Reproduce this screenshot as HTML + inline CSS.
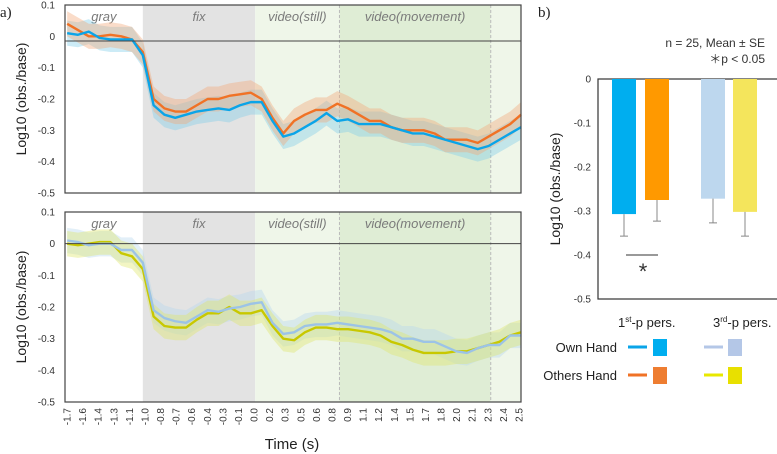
<!DOCTYPE html>
<html><head><meta charset="utf-8">
<style>
html,body{margin:0;padding:0;background:#fff;}
svg{display:block;font-family:"Liberation Sans",sans-serif;}
</style></head>
<body>
<svg id="c" width="777" height="454" viewBox="0 0 777 454" xmlns="http://www.w3.org/2000/svg"></svg>
<script>
// ---- data ----
const times = [-1.7,-1.6,-1.5,-1.4,-1.3,-1.2,-1.1,-1.0,-0.9,-0.8,-0.7,-0.6,-0.5,-0.4,-0.3,-0.2,-0.1,0.0,0.1,0.2,0.3,0.4,0.5,0.6,0.7,0.8,0.9,1.0,1.1,1.2,1.3,1.4,1.5,1.6,1.7,1.8,1.9,2.0,2.1,2.2,2.3,2.4,2.5];
const ownFirst = [0.01,0.005,0.015,-0.005,-0.01,-0.01,-0.01,-0.06,-0.22,-0.25,-0.26,-0.25,-0.24,-0.235,-0.23,-0.235,-0.22,-0.21,-0.21,-0.27,-0.32,-0.31,-0.29,-0.27,-0.245,-0.27,-0.265,-0.28,-0.28,-0.28,-0.29,-0.3,-0.31,-0.31,-0.32,-0.33,-0.34,-0.35,-0.36,-0.35,-0.33,-0.31,-0.29];
const othersFirst = [0.04,0.02,0,0,0.005,0.0,-0.01,-0.05,-0.2,-0.23,-0.24,-0.24,-0.22,-0.2,-0.2,-0.19,-0.185,-0.18,-0.2,-0.26,-0.31,-0.27,-0.25,-0.235,-0.235,-0.215,-0.23,-0.25,-0.27,-0.27,-0.29,-0.3,-0.3,-0.3,-0.31,-0.33,-0.33,-0.33,-0.34,-0.32,-0.3,-0.28,-0.25];
const ownThird = [0.01,0.005,-0.005,0,0.0,-0.02,-0.02,-0.06,-0.21,-0.235,-0.245,-0.25,-0.23,-0.21,-0.215,-0.205,-0.2,-0.19,-0.185,-0.25,-0.285,-0.28,-0.26,-0.255,-0.255,-0.25,-0.255,-0.26,-0.265,-0.27,-0.28,-0.3,-0.3,-0.31,-0.31,-0.325,-0.34,-0.345,-0.33,-0.32,-0.32,-0.29,-0.29];
const othersThird = [0,-0.005,0,0.005,0.005,-0.03,-0.04,-0.08,-0.23,-0.26,-0.265,-0.265,-0.24,-0.22,-0.22,-0.2,-0.22,-0.22,-0.21,-0.26,-0.3,-0.305,-0.28,-0.265,-0.265,-0.27,-0.27,-0.275,-0.28,-0.29,-0.31,-0.32,-0.335,-0.345,-0.345,-0.345,-0.34,-0.34,-0.33,-0.32,-0.31,-0.29,-0.28];
const seBand = 0.04;
const xTickLabels = ["-1.7","-1.6","-1.4","-1.3","-1.1","-1.0","-0.8","-0.7","-0.6","-0.4","-0.3","-0.1","0.0","0.2","0.3","0.5","0.6","0.8","0.9","1.1","1.2","1.4","1.5","1.7","1.8","2.0","2.1","2.3","2.4","2.5"];
const yTicks = [0.1,0,-0.1,-0.2,-0.3,-0.4,-0.5];
const phaseNames = ["gray","fix","video(still)","video(movement)"];
const phaseStarts = [-1.72,-1.0,0.04,0.82,2.22];
const barCategories = ["1st own","1st others","3rd own","3rd others"];
const barValues = [-0.307,-0.275,-0.272,-0.302];
const barErrors = [0.05,0.048,0.055,0.055];
const barTicks = [0,-0.1,-0.2,-0.3,-0.4,-0.5];

const NS="http://www.w3.org/2000/svg";
const svg=document.getElementById('c');
function mk(tag,attrs,parent,text){const e=document.createElementNS(NS,tag);for(const k in attrs)e.setAttribute(k,attrs[k]);if(text!==undefined)e.textContent=text;(parent||svg).appendChild(e);return e;}

const X0=65,X1=521,T0=-1.72,T1=2.5;
const xs=t=>X0+(t-T0)/(T1-T0)*(X1-X0);

function panel(top,bottom,zeroVal,s1,s2,c1,c2,b1,b2,name,showX){
  const g=mk('g',{});
  
  
  const ys=v=>top+(0.1-v)/0.6*(bottom-top);
  const fills=['#ffffff','#e3e3e3','#eff6e9','#dfedd5','#eff6e9'];
  for(let i=0;i<4;i++){
    const r=mk('rect',{x:xs(phaseStarts[i]),y:top,width:xs(phaseStarts[i+1])-xs(phaseStarts[i]),height:bottom-top,fill:fills[i]},g);
    
    
    const tx=mk('text',{x:(xs(phaseStarts[i])+xs(phaseStarts[i+1]))/2,y:top+16,'font-size':13,'font-style':'italic',fill:'#7a7a7a','text-anchor':'middle'},g,phaseNames[i]);
    
    
  }
  mk('rect',{x:xs(phaseStarts[4]),y:top,width:X1-xs(phaseStarts[4]),height:bottom-top,fill:fills[4]},g);
  [phaseStarts[3],phaseStarts[4]].forEach(t=>mk('line',{x1:xs(t),x2:xs(t),y1:top,y2:bottom,stroke:'#bbb','stroke-dasharray':'3,2','stroke-width':1},g));
  function band(s,col){
    let d='M'+times.map((t,i)=>xs(t)+','+ys(s[i]+seBand)).join('L');
    d+='L'+times.slice().reverse().map((t,j)=>{const i=times.length-1-j;return xs(t)+','+ys(s[i]-seBand);}).join('L')+'Z';
    const p=mk('path',{d:d,fill:col,opacity:0.4},g);
    
    
  }
  function line(s,col,n){
    const p=mk('path',{d:'M'+times.map((t,i)=>xs(t)+','+ys(s[i])).join('L'),fill:'none',stroke:col,'stroke-width':2.4,'stroke-linejoin':'round'},g);
    
    
  }
  band(s1,b1);band(s2,b2);
  line(s2,c2,name+'-others-line');line(s1,c1,name+'-own-line');
  mk('line',{x1:X0,x2:X1,y1:ys(zeroVal),y2:ys(zeroVal),stroke:'#444','stroke-width':1},g);
  mk('rect',{x:X0,y:top,width:X1-X0,height:bottom-top,fill:'none',stroke:'#444','stroke-width':1.2},g);
  yTicks.forEach(v=>{const t=mk('text',{x:55,y:ys(v)+3.5,'font-size':10,fill:'#333','text-anchor':'end'},g,v===0?'0':String(v));
    });
  const yt=mk('text',{x:0,y:0,transform:`translate(26,${(top+bottom)/2}) rotate(-90)`,'font-size':14,fill:'#222','text-anchor':'middle'},g,'Log10 (obs./base)');
  
  if(showX){
    const n=xTickLabels.length;
    xTickLabels.forEach((l,i)=>{const x=67+i*(519-67)/(n-1);
      const t=mk('text',{x:0,y:0,transform:`translate(${x+3.5},${bottom+6}) rotate(-90)`,'font-size':10,fill:'#333','text-anchor':'end'},g,l);
      });
  }
}
panel(5,193,-0.015,ownFirst,othersFirst,'#0aa4e8','#f07226','#7fcde8','#f2a878','top-panel-first-person',false);
panel(212,402,0,ownThird,othersThird,'#9cc3e6','#c8c800','#b7d6ee','#dfe56a','bottom-panel-third-person',true);
const xt=mk('text',{x:292,y:449,'font-size':15,fill:'#222','text-anchor':'middle'},svg,'Time (s)');

const la=mk('text',{x:0,y:17,'font-size':15,'font-family':'Liberation Serif',fill:'#222'},svg,'a)');

const lb=mk('text',{x:538,y:17,'font-size':15,'font-family':'Liberation Serif',fill:'#222'},svg,'b)');


// ---- bar chart ----
const BY0=79,BY1=299,BX0=598,BX1=777;
const by=v=>BY0+(0-v)/0.5*(BY1-BY0);
const barX=[612,645,701,733],barW=24;
const barCols=['#00aeef','#ff9900','#bdd7ee','#f4e55c'];
mk('rect',{x:BX0,y:BY0,width:BX1-BX0+2,height:BY1-BY0,fill:'none',stroke:'#333','stroke-width':1.2});
barValues.forEach((v,i)=>{
  const r=mk('rect',{x:barX[i],y:by(0),width:barW,height:by(v)-by(0),fill:barCols[i]});
  
  
  const cx=barX[i]+barW/2;
  const e=mk('path',{d:`M${cx},${by(v)}V${by(v-barErrors[i])}M${cx-4},${by(v-barErrors[i])}H${cx+4}`,stroke:'#888','stroke-width':1,fill:'none'});
  
});
barTicks.forEach(v=>{const t=mk('text',{x:591,y:by(v)+3.5,'font-size':10,fill:'#333','text-anchor':'end'},svg,v===0?'0':String(v));
  });
const byt=mk('text',{x:0,y:0,transform:'translate(560,189) rotate(-90)','font-size':14,fill:'#222','text-anchor':'middle'},svg,'Log10 (obs./base)');

mk('line',{x1:626,x2:658,y1:255,y2:255,stroke:'#333','stroke-width':1});
const st=mk('text',{x:643,y:279,'font-size':22,fill:'#333','text-anchor':'middle'},svg,'*');

const n1=mk('text',{x:765,y:47,'font-size':12,fill:'#333','text-anchor':'end'},svg,'n = 25, Mean ± SE');

const n2=mk('text',{x:765,y:63,'font-size':12,fill:'#333','text-anchor':'end'},svg,'＊p < 0.05');

const c1=mk('text',{x:618,y:327,'font-size':13,fill:'#222'},svg);

c1.innerHTML='1<tspan font-size="8" dy="-5">st</tspan><tspan dy="5">-p pers.</tspan>';
const c2=mk('text',{x:713,y:327,'font-size':13,fill:'#222'},svg);

c2.innerHTML='3<tspan font-size="8" dy="-5">rd</tspan><tspan dy="5">-p pers.</tspan>';
// legend
const legRows=[['Own Hand',347,'#0aa4e8','#00aeef','#b4c7e7','#b4c7e7'],['Others Hand',375,'#f07226','#ee7d31','#e8e800','#e8e000']];
legRows.forEach(r=>{
  const t=mk('text',{x:617,y:r[1]+5,'font-size':13,fill:'#222','text-anchor':'end'},svg,r[0]);
  
  const a=mk('rect',{x:628,y:r[1]-1.5,width:19,height:3,fill:r[2]});
  
  const b=mk('rect',{x:653,y:r[1]-8,width:14,height:17,fill:r[3]});
  
  const c=mk('rect',{x:704,y:r[1]-1.5,width:19,height:3,fill:r[4]});
  
  const d=mk('rect',{x:728,y:r[1]-8,width:14,height:17,fill:r[5]});
  
});
</script>
</body></html>
